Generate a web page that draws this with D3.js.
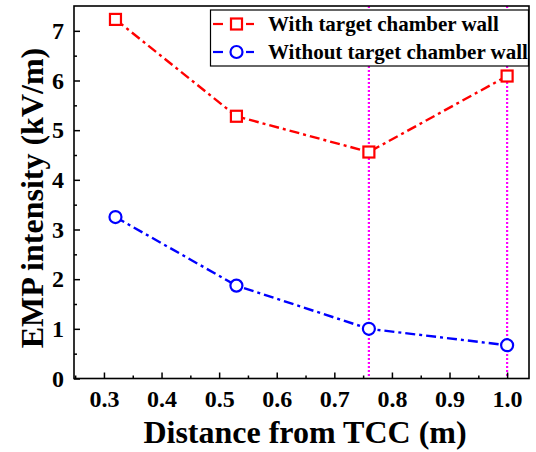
<!DOCTYPE html>
<html><head><meta charset="utf-8">
<script src="https://cdn.jsdelivr.net/npm/d3@7"></script>
<style>body{margin:0;background:#fff} svg text{font-family:"Liberation Serif","Times New Roman",serif;font-weight:bold;}</style>
</head><body><svg id="c" width="536" height="452"></svg>
<script>
const distances = [0.32, 0.53, 0.76, 1.0];
const withWall = [7.23, 5.28, 4.56, 6.09];
const withoutWall = [3.25, 1.87, 1.0, 0.67];
const markerLines = [0.76, 1.0];
const xTicks = [0.3, 0.4, 0.5, 0.6, 0.7, 0.8, 0.9, 1.0];
const yTicks = [0, 1, 2, 3, 4, 5, 6, 7];
const seriesNames = ["With target chamber wall", "Without target chamber wall"];

const svg = d3.select("#c");
const L = 74, R = 529, T = 6, B = 378.5;
const x = d3.scaleLinear().domain([0.248, 1.038]).range([L, R]);
const y = d3.scaleLinear().domain([0, 7.5]).range([B, T]);
const font = "Liberation Serif";

// magenta dotted lines
svg.selectAll(".vl").data(markerLines).enter().append("line")
  .attr("x1", d => x(d)).attr("x2", d => x(d)).attr("y1", T).attr("y2", B)
  .attr("stroke", "#ff00ff").attr("stroke-width", 2.2).attr("stroke-dasharray", "2,2");

// axes
const xAxis = d3.axisBottom(x).tickValues(xTicks).tickSize(-6).tickPadding(11).tickFormat(d3.format(".1f"));
const xMinor = d3.axisBottom(x).tickValues(d3.range(0.25, 1.04, 0.1)).tickSize(-3).tickFormat("");
const yAxis = d3.axisLeft(y).tickValues(yTicks).tickSize(-6).tickPadding(10).tickFormat(d3.format("d"));
const yMinor = d3.axisLeft(y).tickValues(d3.range(0.5, 7.5, 1)).tickSize(-3).tickFormat("");

function styleAxis(g){
  g.attr("font-family", null);
  g.select(".domain").remove();
  g.selectAll("line").attr("stroke", "#000").attr("stroke-width", 1.5);
  g.selectAll("text").style("font-family", font).style("font-weight", "bold").style("font-size", "24px").attr("fill", "#000");
}
svg.append("g").attr("transform", `translate(0,${B})`).call(xAxis).call(styleAxis);
svg.append("g").attr("transform", `translate(0,${B})`).call(xMinor).call(styleAxis);
svg.append("g").attr("transform", `translate(${L},0)`).call(yAxis).call(styleAxis);
svg.append("g").attr("transform", `translate(${L},0)`).call(yMinor).call(styleAxis);

svg.append("rect").attr("x", L).attr("y", T).attr("width", R - L).attr("height", B - T)
  .attr("fill", "none").attr("stroke", "#000").attr("stroke-width", 1.6);

// series
const series = [
  {vals: withWall, color: "#ff0000", shape: "square"},
  {vals: withoutWall, color: "#0000ff", shape: "circle"}
];
const line = d3.line().x(d => x(d[0])).y(d => y(d[1]));
series.forEach(s => {
  const pts = distances.map((d, i) => [d, s.vals[i]]);
  svg.append("path").datum(pts).attr("d", line).attr("fill", "none")
    .attr("stroke", s.color).attr("stroke-width", 2.4).attr("stroke-dasharray", "10,4,3,4");
  pts.forEach(p => drawMarker(svg, x(p[0]), y(p[1]), s));
});
function drawMarker(g, cx, cy, s){
  if (s.shape === "square") {
    g.append("rect").attr("x", cx - 5.5).attr("y", cy - 5.5).attr("width", 11).attr("height", 11)
      .attr("fill", "#fff").attr("stroke", s.color).attr("stroke-width", 2.2);
  } else {
    g.append("circle").attr("cx", cx).attr("cy", cy).attr("r", 6)
      .attr("fill", "#fff").attr("stroke", s.color).attr("stroke-width", 2.2);
  }
}

// legend
const lg = svg.append("g");
lg.append("rect").attr("x", 210.5).attr("y", 10).attr("width", 318).attr("height", 56)
  .attr("fill", "#fff").attr("stroke", "#000").attr("stroke-width", 1.2);
seriesNames.forEach((name, i) => {
  const cy = 24 + i * 28;
  [[213, 223], [246, 254]].forEach(seg => {
    lg.append("line").attr("x1", seg[0]).attr("x2", seg[1]).attr("y1", cy).attr("y2", cy)
      .attr("stroke", series[i].color).attr("stroke-width", 2.2);
  });
  drawMarker(lg, 236.5, cy, series[i]);
  lg.append("text").attr("x", 268).attr("y", cy + 7).text(name)
    .style("font-family", font).style("font-weight", "bold").style("font-size", "21px");
});

// axis titles
svg.append("text").attr("x", 305).attr("y", 443).attr("text-anchor", "middle")
  .style("font-family", font).style("font-weight", "bold").style("font-size", "32px").text("Distance from TCC (m)");
svg.append("text").attr("transform", `translate(43,198) rotate(-90)`).attr("text-anchor", "middle")
  .style("font-family", font).style("font-weight", "bold").style("font-size", "32px").text("EMP intensity (kV/m)");
</script></body></html>
